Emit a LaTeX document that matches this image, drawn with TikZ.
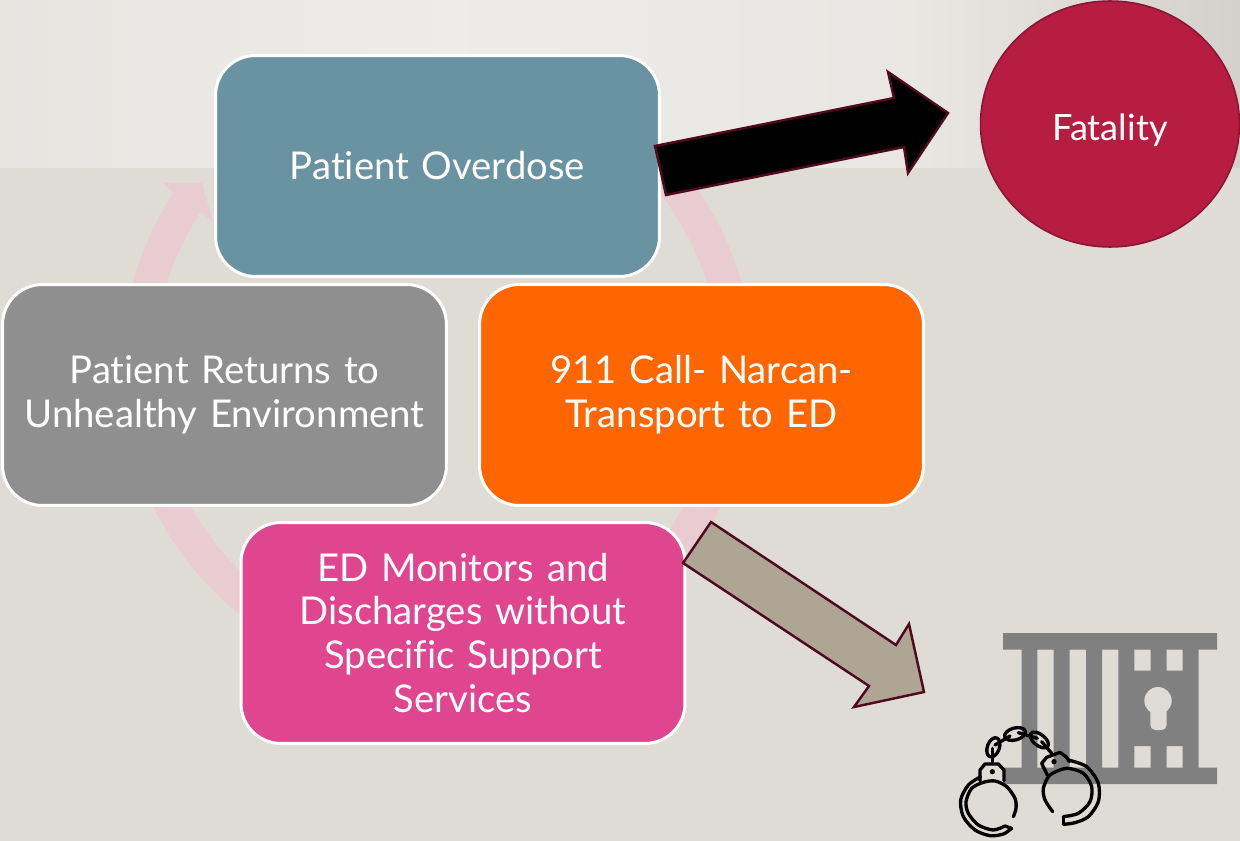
\documentclass[tikz,border=0pt]{standalone}
\usepackage{fontspec}
\setmainfont[Ligatures=CommonOff]{Lato}
\usetikzlibrary{shapes.geometric}
\definecolor{wallpaper}{HTML}{DFDCD6}
\definecolor{ringpink}{HTML}{E9CCD2}
\definecolor{tealbox}{HTML}{6A93A2}
\definecolor{greybox}{HTML}{8F8F8F}
\definecolor{orangebox}{HTML}{FF6600}
\definecolor{pinkbox}{HTML}{E0468F}
\definecolor{fatalred}{HTML}{B71D41}
\definecolor{fataledge}{HTML}{8A1535}
\definecolor{arrowedge}{HTML}{4F0A1F}
\definecolor{arrowtan}{HTML}{AEA595}
\definecolor{jailgrey}{HTML}{808080}
\pgfdeclarehorizontalshading{topband}{100bp}{
	color(0bp)=(white!40!wallpaper);
	color(25bp)=(white!25!wallpaper);
	color(43bp)=(white!45!wallpaper);
	color(62bp)=(white!30!wallpaper);
	color(75bp)=(black!5!wallpaper);
	color(100bp)=(black!5!wallpaper)
}
\tikzset{
	% ------- every something
	every node/.style={
		font=\fontsize{21.8}{25}\selectfont,
		text=white,
		align=center,
	},
	% ------- custom
	stage/.style={
		draw=white,
		line width=1.7pt,
		rounded corners=0.8cm,
		minimum width=8.88cm,
		minimum height=4.42cm,
		text width=8.4cm,
	},
	block arrow/.style={
		draw=arrowedge,
		line width=1.4pt,
		line join=miter,
	},
	cuff/.style={
		line width=1.9pt,
		black,
		line cap=round,
		line join=round,
	},
}
\begin{document}
\begin{tikzpicture}[x=0.02cm,y=-0.02cm]

% parameters %{{{1

	\def\ringx{437}
	\def\ringy{367.5}
	\def\ringin{283}
	\def\ringout{316}

% background %{{{1

	\useasboundingbox (0,0) rectangle (1240,841);
	\fill[wallpaper] (0,0) rectangle (1240,841);
	\shade[shading=topband] (0,0) rectangle (1240,168);

% ring %{{{1

	\fill[ringpink]
		plot[domain=125:213.4,samples=60] ({\ringx+\ringin*cos(\x)},{\ringy+\ringin*sin(\x)})
		-- (213,222) -- (202,183) -- (163,183) -- (174,193)
		-- plot[domain=213.4:125,samples=60] ({\ringx+\ringout*cos(\x)},{\ringy+\ringout*sin(\x)})
		-- cycle;
	\fill[ringpink]
		plot[domain=-50:50,samples=60] ({\ringx+\ringin*cos(\x)},{\ringy+\ringin*sin(\x)})
		-- plot[domain=50:-50,samples=60] ({\ringx+\ringout*cos(\x)},{\ringy+\ringout*sin(\x)})
		-- cycle;

% stages %{{{1

	\node[stage, fill=tealbox] (overdose) at (437.5,166) {Patient Overdose};
	\node[stage, fill=orangebox] (transport) at (701.5,395) {911 Call- Narcan-\\Transport to ED};
	\node[stage, fill=greybox] (returns) at (224.5,395) {Patient Returns to\\Unhealthy Environment};
	\node[stage, fill=pinkbox] (monitors) at (463,633) {ED Monitors and\\Discharges without\\Specific Support\\Services};

% fatality %{{{1

	\node[draw=fataledge, fill=fatalred, line width=0.9pt, ellipse, minimum width=5.18cm, minimum height=4.92cm, inner sep=0pt, font=\fontsize{20.6}{25}\selectfont, text height=0.77cm] (fatality) at (1110,124) {Fatality};

% block arrows %{{{1

	\draw[block arrow, fill=black]
		(655,146) -- (894,98) -- (888,72) -- (948,113) -- (908,173) -- (904,147) -- (666,195) -- cycle;
	\draw[block arrow, fill=arrowtan]
		(711,522) -- (896,645) -- (909,624) -- (924,692) -- (854,707) -- (869,686) -- (683,563) -- cycle;

% jail %{{{1

	\fill[jailgrey]
		(1003,633) rectangle (1217,649.5)
		(1003,767.5) rectangle (1217,784);
	\fill[jailgrey, even odd rule]
		(1021.5,649) rectangle (1198.5,768)
		(1037.3,649) rectangle (1053.7,768)
		(1069.7,649) rectangle (1086,768)
		(1102,649) rectangle (1118.3,768)
		(1134.3,649) rectangle (1150.7,670.7)
		(1166.7,649) rectangle (1182.7,670.7)
		(1134.3,746) rectangle (1150.7,768)
		(1166.7,746) rectangle (1182.7,768);
	\fill[wallpaper] (1158,700.7) circle (13.7);
	\fill[wallpaper, rounded corners=0.1cm] (1150.3,705) rectangle (1166.7,730);

% handcuffs %{{{1

	\begin{scope}[shift={(950,720)},x=0.006667cm,y=-0.006667cm]
		% left cuff
		\draw[cuff] plot[smooth] coordinates {(92,170) (55,195) (32,240) (40,290) (75,330) (120,347) (160,342) (185,325)};
		\draw[cuff] (185,325) -- (165,318);
		\draw[cuff] plot[smooth] coordinates {(165,318) (130,330) (85,315) (55,280) (48,245) (65,205) (100,187) (135,183) (170,200) (195,235) (198,265) (190,290)};
		\draw[cuff] (90,182) -- (90,150) -- (105,132) -- (145,132) -- (162,150) -- (162,182);
		\fill (127,155) circle (8);
		% right cuff
		\draw[cuff] plot[smooth] coordinates {(355,120) (410,140) (445,190) (445,245) (415,290) (375,308) (340,313)};
		\draw[cuff] (340,313) -- (340,290);
		\draw[cuff] plot[smooth] coordinates {(340,290) (385,280) (420,245) (425,200) (400,160) (350,145) (300,165) (280,205) (285,240) (308,275)};
		\draw[cuff] (292,165) -- (275,130) -- (290,112) -- (330,97) -- (350,112) -- (358,125);
		\fill (312,125) circle (8);
		% chain
		\draw[cuff, rotate around={70:(130,82)}] (130,82) ellipse (30 and 18);
		\draw[cuff, rotate around={15:(195,42)}] (195,42) ellipse (32 and 18);
		\draw[cuff, rotate around={-38:(268,60)}] (268,60) ellipse (32 and 17);
		\draw[cuff] (127,130) -- (127,85);
		\draw[cuff] (135,75) -- (180,48);
		\draw[cuff] (205,38) -- (262,55);
		\draw[cuff] (275,65) -- (305,100);
	\end{scope}

% closing %{{{1

\end{tikzpicture}
\end{document}
